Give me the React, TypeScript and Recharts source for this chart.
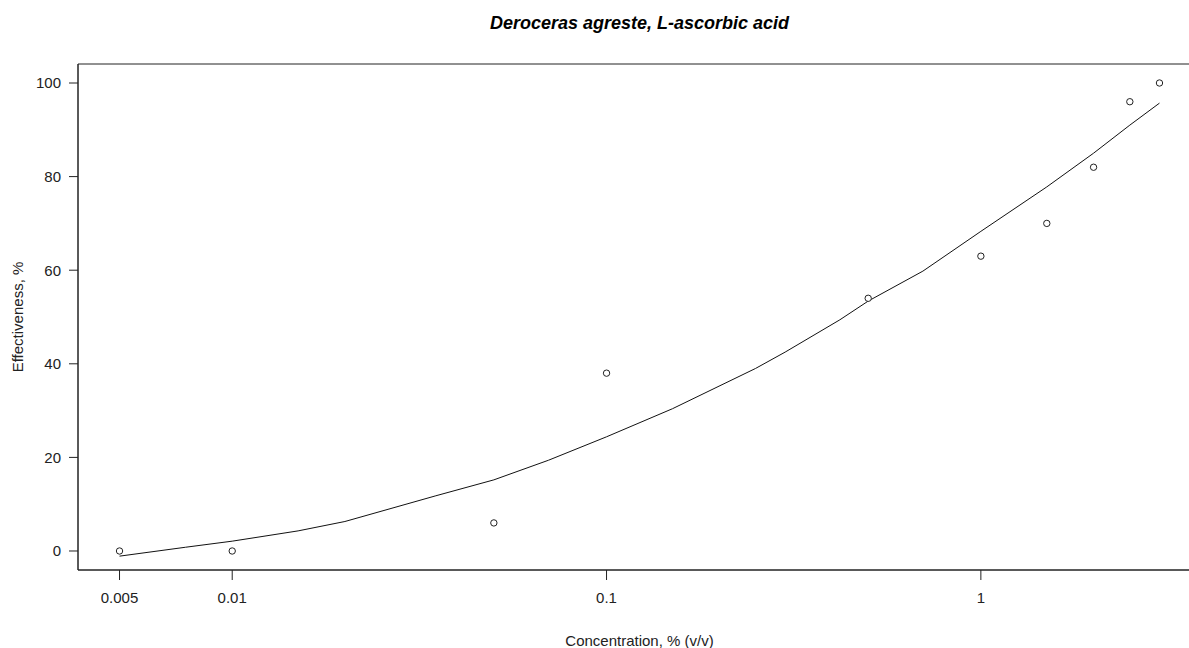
import React from 'react';
import { ScatterChart, Scatter, XAxis, YAxis, ReferenceArea } from 'recharts';

// observed effectiveness at each concentration
const concentrations = [0.005, 0.01, 0.05, 0.1, 0.5, 1, 1.5, 2, 2.5, 3];
const effectiveness = [0, 0, 6, 38, 54, 63, 70, 82, 96, 100];

// fitted curve
const curveX = [0.005, 0.0075, 0.01, 0.015, 0.02, 0.035, 0.05, 0.07, 0.1, 0.15, 0.25, 0.3, 0.42, 0.5, 0.7, 1, 1.5, 2, 2.5, 3];
const curveY = [-1.1, 0.8, 2.1, 4.3, 6.3, 11.8, 15.2, 19.4, 24.4, 30.4, 39.0, 42.5, 49.4, 53.4, 59.8, 68.3, 77.8, 85.0, 91.0, 95.7];

const xTicks = [0.005, 0.01, 0.1, 1];
const yTicks = [0, 20, 40, 60, 80, 100];

const X_DOMAIN = [0.003873, 3.873];
const Y_DOMAIN = [-4.06, 104.06];

const points = concentrations.map((c, i) => ({ x: c, y: effectiveness[i] }));
const curve = curveX.map((c, i) => ({ x: c, y: curveY[i] }));

const FONT = '"Liberation Sans", Arial, sans-serif';

const OpenDot = (props: any) => {
  const { cx, cy } = props;
  if (cx == null || cy == null) return <g />;
  return <circle cx={cx} cy={cy} r={3.2} fill="#fff" stroke="#222" strokeWidth={1} />;
};

const App: React.FC = () => {
  return (
    <div style={{ position: 'absolute', left: 0, top: 0, width: 1189, height: 648, overflow: 'hidden', background: '#fff', fontFamily: FONT }}>
      <div
        style={{
          position: 'absolute', left: 0, width: 1279, top: 13, textAlign: 'center',
          fontSize: 18, fontWeight: 'bold', fontStyle: 'italic', color: '#000',
        }}
      >
        Deroceras agreste, L-ascorbic acid
      </div>
      <ScatterChart
        width={1240}
        height={648}
        margin={{ top: 64, right: 39, bottom: 0, left: 0 }}
        style={{ position: 'absolute', left: 0, top: 0 }}
      >
        <XAxis
          type="number"
          dataKey="x"
          scale="log"
          domain={X_DOMAIN}
          allowDataOverflow
          ticks={xTicks}
          tickFormatter={(v: number) => String(v)}
          height={78}
          tickSize={10}
          tickMargin={12}
          stroke="#222"
          tick={{ fill: '#222', fontSize: 15, fontFamily: FONT }}
          label={{ value: 'Concentration, % (v/v)', position: 'insideBottom', offset: 2, fill: '#222', fontSize: 15, fontFamily: FONT }}
        />
        <YAxis
          type="number"
          dataKey="y"
          domain={Y_DOMAIN}
          allowDataOverflow
          ticks={yTicks}
          width={78}
          tickSize={9}
          tickMargin={8}
          stroke="#222"
          tick={{ fill: '#222', fontSize: 15, fontFamily: FONT }}
          label={{ value: 'Effectiveness, %', angle: -90, position: 'center', dx: -21, fill: '#222', fontSize: 15, fontFamily: FONT }}
        />
        <ReferenceArea
          x1={X_DOMAIN[0]}
          x2={X_DOMAIN[1]}
          y1={Y_DOMAIN[0]}
          y2={Y_DOMAIN[1]}
          fill="none"
          stroke="#222"
          strokeWidth={1}
          ifOverflow="visible"
        />
        <Scatter
          data={curve}
          line={{ stroke: '#111', strokeWidth: 1 }}
          lineJointType="linear"
          shape={() => <g />}
          isAnimationActive={false}
        />
        <Scatter data={points} shape={OpenDot} isAnimationActive={false} />
      </ScatterChart>
    </div>
  );
};

export default App;
